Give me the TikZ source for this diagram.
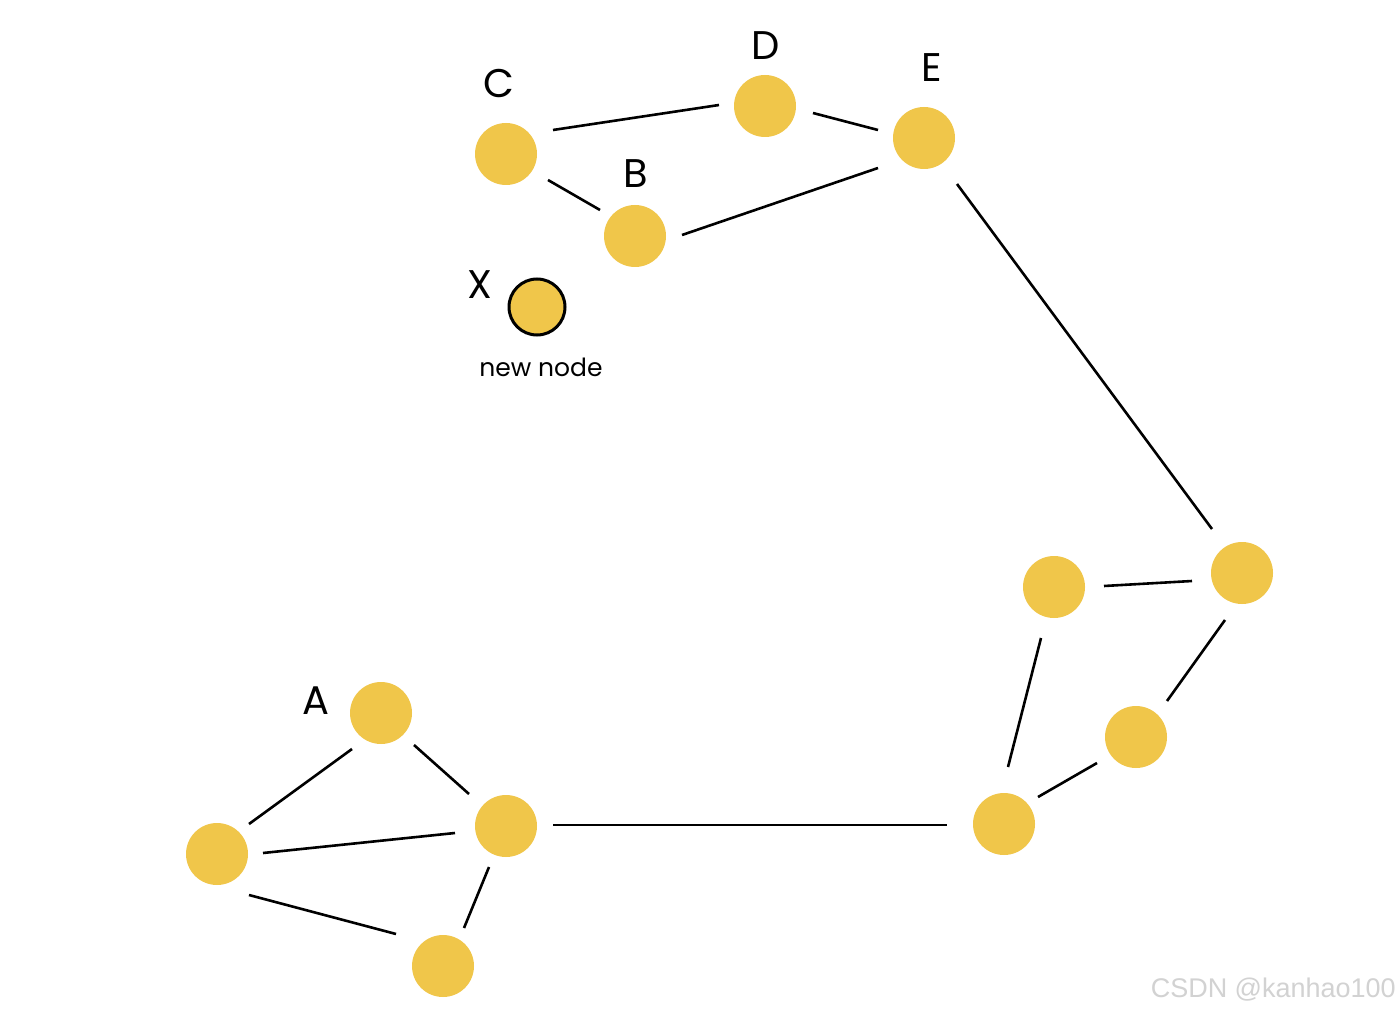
\documentclass[tikz,border=0pt]{standalone}
\usepackage{fontspec}
\setmainfont{Poppins}
\newfontfamily\wmfont{Liberation Sans}
\definecolor{nodeyellow}{HTML}{F0C64A}
\definecolor{wmgray}{HTML}{D2D2D2}
\begin{document}
\begin{tikzpicture}[x=1pt,y=-1pt,
  dot/.style={circle,fill=nodeyellow,inner sep=0pt,minimum size=62pt},
  newdot/.style={circle,fill=nodeyellow,draw=black,line width=3pt,inner sep=0pt,minimum size=56pt},
  edge/.style={draw=black,line width=2.6pt},
  lbl/.style={font=\fontsize{40}{40}\selectfont,inner sep=0pt},
  sm/.style={font=\fontsize{25}{25}\selectfont,inner sep=0pt}]
\useasboundingbox[fill=white] (0,0) rectangle (1400,1016);
% nodes
\node[dot] (C) at (506,154) {};
\node[dot] (D) at (765,106) {};
\node[dot] (E) at (924,138) {};
\node[dot] (B) at (635,236) {};
\node[newdot] (X) at (537,307) {};
\node[dot] (A) at (381,713) {};
\node[dot] (AL) at (217,854) {};
\node[dot] (AR) at (506,826) {};
\node[dot] (AB) at (443,966) {};
\node[dot] (R1) at (1004,824) {};
\node[dot] (R2) at (1136,737) {};
\node[dot] (R3) at (1242,573) {};
\node[dot] (R4) at (1054,587) {};
% labels
\node[lbl] (lC) at (499,84) {C};
\node[lbl] (lD) at (766,46) {D};
\node[lbl] (lE) at (932,68) {E};
\node[lbl] (lB) at (636,174) {B};
\node[lbl] (lX) at (480,285) {X};
\node[lbl] (lA) at (316,701) {A};
\node[sm] (lnew) at (541,367) {new node};
\node[font=\wmfont\fontsize{27}{27}\selectfont,text=wmgray,inner sep=0pt,anchor=east] (wm) at (1396,990) {CSDN @kanhao100};
% edges
\draw[edge] ([shift={(47,-24)}]C.center) -- ([shift={(-46,-1)}]D.center);
\draw[edge] ([shift={(48,7)}]D.center) -- ([shift={(-46,-8)}]E.center);
\draw[edge] ([shift={(42,26)}]C.center) -- ([shift={(-35,-26)}]B.center);
\draw[edge] ([shift={(47,-1)}]B.center) -- ([shift={(-46,30)}]E.center);
\draw[edge] ([shift={(33,46)}]E.center) -- ([shift={(-30,-44)}]R3.center);
\draw[edge] ([shift={(50,-1)}]R4.center) -- ([shift={(-50,8)}]R3.center);
\draw[edge] ([shift={(-17,47)}]R3.center) -- ([shift={(31,-36)}]R2.center);
\draw[edge] ([shift={(-13,51)}]R4.center) -- ([shift={(4,-57)}]R1.center);
\draw[edge] ([shift={(-39,26)}]R2.center) -- ([shift={(34,-27)}]R1.center);
\draw[edge] ([shift={(-29,36)}]A.center) -- ([shift={(32,-30)}]AL.center);
\draw[edge] ([shift={(33,32)}]A.center) -- ([shift={(-37,-32)}]AR.center);
\draw[edge] ([shift={(46,-1)}]AL.center) -- ([shift={(-51,7)}]AR.center);
\draw[edge] ([shift={(32,41)}]AL.center) -- ([shift={(-47,-32)}]AB.center);
\draw[edge] ([shift={(-17,41)}]AR.center) -- ([shift={(21,-38)}]AB.center);
\draw[edge] ([shift={(47,-1)}]AR.center) -- ([shift={(-57,1)}]R1.center);
\end{tikzpicture}
\end{document}
